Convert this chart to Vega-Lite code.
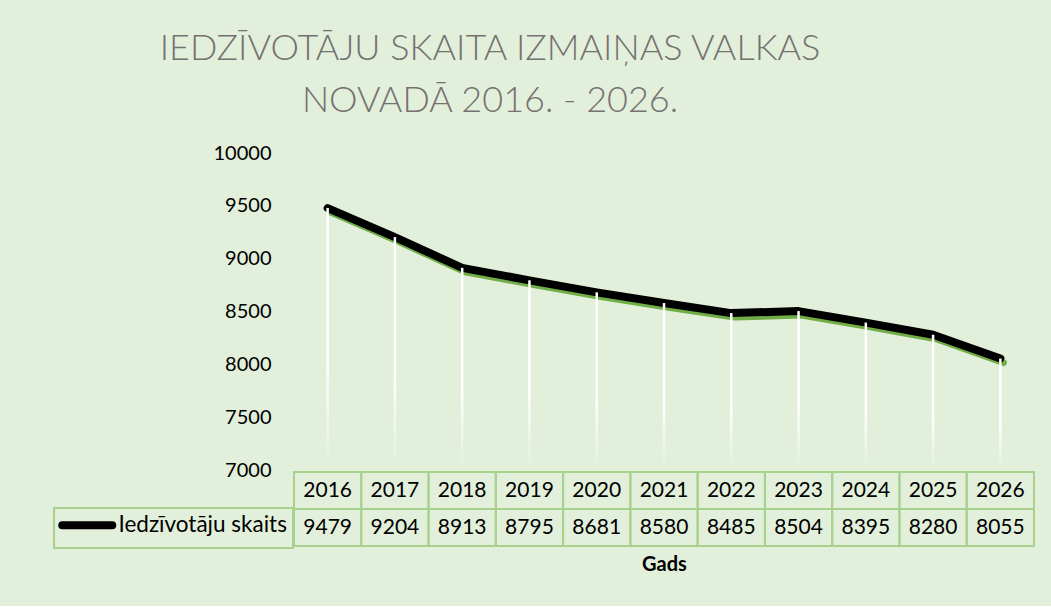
{
  "$schema": "https://vega.github.io/schema/vega-lite/v6.json",
  "background": "#e2efda",
  "padding": {"left": 53, "top": 31, "right": 18, "bottom": 32},
  "data": {"values": [
    {"year": "2016", "value": 9479},
    {"year": "2017", "value": 9204},
    {"year": "2018", "value": 8913},
    {"year": "2019", "value": 8795},
    {"year": "2020", "value": 8681},
    {"year": "2021", "value": 8580},
    {"year": "2022", "value": 8485},
    {"year": "2023", "value": 8504},
    {"year": "2024", "value": 8395},
    {"year": "2025", "value": 8280},
    {"year": "2026", "value": 8055}
  ]},
  "title": {
    "text": ["IEDZĪVOTĀJU SKAITA IZMAIŅAS VALKAS", "NOVADĀ 2016. - 2026."],
    "font": "Lato", "fontSize": 36, "fontWeight": 300, "color": "#767171",
    "lineHeight": 52, "anchor": "middle", "frame": "bounds", "offset": 23, "dx": -54
  },
  "bounds": "flush",
  "spacing": 2,
  "vconcat": [
    {
      "width": 740, "height": 317,
      "encoding": {
        "x": {"field": "year", "type": "ordinal", "scale": {"paddingInner": 0, "paddingOuter": 0}, "axis": null}
      },
      "layer": [
        {
          "mark": {"type": "line", "color": "#70ad47", "strokeWidth": 7, "strokeCap": "round", "strokeJoin": "round", "xOffset": 3, "yOffset": 4},
          "encoding": {
            "y": {"field": "value", "type": "quantitative", "scale": {"domain": [7000, 10000], "zero": false, "nice": false},
              "axis": {"values": [7000, 7500, 8000, 8500, 9000, 9500, 10000], "format": "d", "title": null, "ticks": false, "domain": false, "grid": false,
                "labelFont": "Lato", "labelFontSize": 20, "labelColor": "#000", "labelPadding": 23}}
          }
        },
        {
          "mark": {"type": "line", "color": "#000000", "strokeWidth": 8, "strokeCap": "round", "strokeJoin": "round"},
          "encoding": {"y": {"field": "value", "type": "quantitative"}}
        },
        {
          "mark": {"type": "bar", "width": 2.5,
            "color": {"gradient": "linear", "x1": 0, "y1": 0, "x2": 0, "y2": 1,
              "stops": [{"offset": 0, "color": "#ffffff"}, {"offset": 0.6, "color": "#ffffff"}, {"offset": 1, "color": "#e2efda"}]}},
          "encoding": {
            "y": {"field": "value", "type": "quantitative"},
            "y2": {"datum": 7000}
          }
        }
      ]
    },
    {
      "width": 740, "height": 74,
      "encoding": {
        "x": {"field": "year", "type": "ordinal", "scale": {"paddingInner": 0, "paddingOuter": 0},
          "axis": {"title": "Gads", "labels": false, "ticks": false, "domain": false,
            "titleFont": "Lato", "titleFontSize": 20, "titleFontWeight": "bold", "titleColor": "#000", "titlePadding": 8}}
      },
      "layer": [
        {
          "mark": {"type": "rect", "fill": "transparent", "stroke": "#a9d18e", "strokeWidth": 2},
          "encoding": {"y": {"datum": "y", "type": "nominal", "scale": {"domain": ["y", "v"], "paddingInner": 0, "paddingOuter": 0}, "axis": null}}
        },
        {
          "mark": {"type": "rect", "fill": "transparent", "stroke": "#a9d18e", "strokeWidth": 2},
          "encoding": {"y": {"datum": "v", "type": "nominal"}}
        },
        {
          "mark": {"type": "text", "font": "Lato", "fontSize": 21, "color": "#000"},
          "encoding": {"y": {"datum": "y", "type": "nominal"}, "text": {"field": "year", "type": "nominal"}}
        },
        {
          "mark": {"type": "text", "font": "Lato", "fontSize": 21},
          "encoding": {
            "y": {"datum": "v", "type": "nominal"},
            "text": {"field": "value", "type": "nominal"},
            "color": {"datum": "Iedzīvotāju skaits", "type": "nominal", "scale": {"range": ["#000000"]},
              "legend": {"orient": "none", "legendX": -240, "legendY": 355, "title": null,
                "symbolType": "M-5,0H5", "symbolSize": 100, "symbolStrokeWidth": 8, "symbolStrokeColor": "#000", "symbolOffset": 16,
                "labelFont": "Lato", "labelFontSize": 22.5, "labelColor": "#000", "labelOffset": 20, "labelLimit": 220,
                "padding": 6, "strokeColor": "#a9d18e",
                "encode": {"legend": {"update": {"strokeWidth": {"value": 2}}}, "symbols": {"update": {"strokeCap": {"value": "round"}, "stroke": {"value": "#000"}}}}}}
          }
        }
      ]
    }
  ],
  "config": {"view": {"stroke": null}}
}
